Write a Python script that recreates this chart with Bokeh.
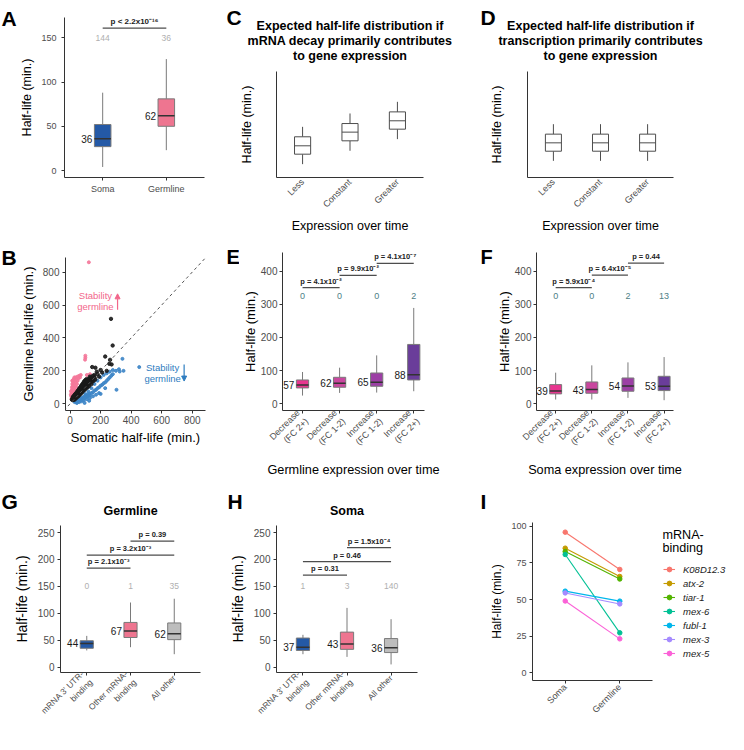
import math
from bokeh.plotting import figure
from bokeh.models import Range1d, FixedTicker, Slope, Arrow, NormalHead, Legend, LegendItem
from bokeh.layouts import column, row
from bokeh.embed import file_html
from bokeh.resources import INLINE
from bokeh.core.properties import value

FONT = "Liberation Sans"
AXC = "#333333"
TICKC = "#4D4D4D"

# ---------------- data ----------------
# A
a_cats = ["Soma", "Germline"]
a_lo = [4, 23]
a_q1 = [27, 50]
a_med = [36, 62]
a_q3 = [52, 81]
a_hi = [88, 126]
a_counts = ["144", "36"]
a_colors = ["#2459A6", "#EE7590"]
a_ptext = ["p < 2.2x10\u207b\u00b9\u2076"]
a_pairs = [(1, 2)]
a_py = [161]
a_yticks = [0, 50, 100, 150]

# C / D (schematic)
cd_cats = ["Less", "Constant", "Greater"]
c_lo = [12.6, 25.2, 36.2]
c_q1 = [22.0, 34.6, 45.6]
c_med = [29.9, 42.8, 53.5]
c_q3 = [38.4, 50.9, 61.9]
c_hi = [47.8, 60.4, 71.4]
d_lo = [15.7, 15.7, 15.7]
d_q1 = [24.8, 24.8, 24.8]
d_med = [32.7, 32.7, 32.7]
d_q3 = [40.9, 40.9, 40.9]
d_hi = [50.3, 50.3, 50.3]
c_title = ["Expected half-life distribution if", "mRNA decay primarily contributes", "to gene expression"]
d_title = ["Expected half-life distribution if", "transcription primarily contributes", "to gene expression"]

# B scatter
b_black_x = [12, 15, 18, 20, 22, 25, 25, 28, 30, 30,
             32, 35, 35, 38, 40, 40, 42, 45, 45, 48,
             50, 50, 52, 55, 55, 58, 60, 60, 62, 65,
             65, 68, 70, 70, 72, 75, 75, 78, 80, 80,
             82, 85, 85, 88, 90, 90, 92, 95, 95, 98,
             100, 100, 105, 105, 110, 110, 115, 115, 120, 120,
             125, 125, 130, 135, 140, 145, 150, 155, 160, 165,
             18, 22, 28, 33, 38, 43, 48, 52, 58, 62,
             68, 72, 78, 82, 88, 92, 98, 102, 108, 112,
             118, 128, 268, 279, 230, 262, 257, 272, 200, 210,
             240, 180, 190, 145, 166, 175, 160, 140, 150, 130]
b_black_y = [25, 30, 22, 35, 28, 40, 32, 24, 45, 36,
             30, 50, 40, 33, 55, 45, 38, 60, 50, 42,
             65, 55, 46, 70, 60, 50, 75, 66, 56, 80,
             70, 60, 86, 76, 65, 90, 80, 70, 96, 85,
             74, 100, 90, 80, 105, 95, 84, 110, 100, 88,
             115, 104, 120, 95, 125, 110, 130, 100, 135, 118,
             140, 108, 128, 145, 120, 135, 150, 140, 160, 148,
             40, 45, 52, 58, 62, 68, 75, 80, 88, 95,
             100, 108, 115, 120, 128, 135, 140, 145, 150, 138,
             148, 155, 516, 354, 287, 267, 243, 239, 205, 190,
             200, 180, 165, 223, 219, 195, 175, 160, 170, 165]
b_pink_x = [8, 10, 10, 12, 12, 14, 15, 15, 17, 18,
            18, 20, 20, 22, 24, 25, 26, 28, 30, 32,
            35, 35, 38, 40, 42, 45, 48, 50, 55, 60,
            65, 70, 12, 16, 9, 20, 14, 28, 6, 5,
            123, 100, 100, 98, 130, 110]
b_pink_y = [45, 60, 80, 50, 100, 70, 120, 90, 60, 110,
            140, 80, 130, 100, 150, 70, 120, 90, 140, 110,
            160, 80, 130, 100, 150, 120, 165, 140, 155, 170,
            160, 175, 35, 42, 30, 55, 140, 160, 75, 55,
            860, 292, 280, 268, 180, 175]
b_blue_x = [30, 35, 40, 45, 50, 55, 60, 65, 70, 75,
            80, 85, 90, 95, 100, 105, 110, 115, 120, 125,
            130, 140, 150, 160, 170, 180, 190, 200, 210, 220,
            230, 240, 250, 260, 270, 280, 300, 320, 350, 45,
            60, 75, 90, 110, 130, 150, 170, 190, 140, 120,
            100, 160, 180, 200, 220, 240, 260, 280, 304, 453,
            343, 230, 200, 125, 95, 325]
b_blue_y = [10, 15, 8, 20, 12, 25, 18, 30, 22, 35,
            28, 40, 32, 45, 38, 50, 42, 55, 48, 60,
            52, 65, 70, 80, 85, 95, 100, 110, 115, 125,
            130, 140, 150, 160, 170, 180, 200, 210, 200, 5,
            10, 15, 20, 28, 35, 45, 55, 65, 95, 75,
            60, 120, 140, 160, 175, 185, 195, 205, 85, 223,
            273, 95, 60, 18, 5, 196]
b_ticks = [0, 200, 400, 600, 800]
b_up_text = ["Stability", "germline"]
b_up_tx = [166, 166]
b_up_ty = [658, 591]
b_up_arrow = (311, 571, 668)
b_dn_text = ["Stability", "germline"]
b_dn_tx = [606, 606]
b_dn_ty = [223, 156]
b_dn_arrow = (747, 239, 138)

# E / F
ef_cats = ["Decrease\n(FC 2+)", "Decrease\n(FC 1-2)", "Increase\n(FC 1-2)", "Increase\n(FC 2+)"]
ef_colors = ["#E8368F", "#C9479F", "#9C3FA5", "#6A3D9A"]
e_lo = [25, 33, 34, 38]
e_q1 = [48, 50, 53, 72]
e_med = [57, 62, 65, 88]
e_q3 = [72, 80, 93, 179]
e_hi = [96, 109, 146, 289]
e_counts = ["0", "0", "0", "2"]
e_ptext = ["p = 4.1x10\u207b\u00b2", "p = 9.9x10\u207b\u00b2", "p = 4.1x10\u207b\u2077"]
e_pairs = [(1, 2), (2, 3), (3, 4)]
e_py = [350, 387, 423]
f_lo = [13, 13, 18, 11]
f_q1 = [30, 32, 38, 40]
f_med = [39, 43, 54, 53]
f_q3 = [58, 66, 78, 83]
f_hi = [94, 116, 125, 141]
f_counts = ["0", "0", "2", "13"]
f_ptext = ["p = 5.9x10\u207b\u2074", "p = 6.4x10\u207b\u2075", "p = 0.44"]
f_pairs = [(1, 2), (2, 3), (3, 4)]
f_py = [350, 388, 424]
ef_yticks = [0, 100, 200, 300, 400]

# G / H
gh_cats = ["mRNA 3' UTR-\nbinding", "Other mRNA-\nbinding", "All other"]
gh_colors = ["#2459A6", "#EE7590", "#BDBDBD"]
g_lo = [31, 37, 24]
g_q1 = [35, 55, 51]
g_med = [44, 67, 62]
g_q3 = [49, 83, 82]
g_hi = [58, 120, 127]
g_counts = ["0", "1", "35"]
g_ptext = ["p = 2.1x10\u207b\u00b3", "p = 3.2x10\u207b\u00b3", "p = 0.39"]
g_pairs = [(1, 2), (1, 3), (2, 3)]
g_py = [184, 208, 234]
h_lo = [24, 19, 5]
h_q1 = [31, 33, 27]
h_med = [37, 43, 36]
h_q3 = [54, 65, 53]
h_hi = [60, 110, 89]
h_counts = ["1", "3", "140"]
h_ptext = ["p = 0.31", "p = 0.46", "p = 1.5x10\u207b\u2074"]
h_pairs = [(1, 2), (1, 3), (2, 3)]
h_py = [171, 196, 222]
gh_yticks = [0, 50, 100, 150, 200, 250]

# I
i_cats = ["Soma", "Germline"]
i_genes = ["K08D12.3", "atx-2", "tiar-1", "mex-6", "fubl-1", "mex-3", "mex-5"]
i_soma = [95.9, 85.0, 82.7, 80.7, 55.7, 54.5, 49.0]
i_germ = [70.5, 65.7, 64.0, 27.3, 48.9, 47.0, 23.2]
i_colors = ["#F8766D", "#C49A00", "#53B400", "#00C094", "#00B6EB", "#A58AFF", "#FB61D7"]
i_yticks = [0, 25, 50, 75, 100]


# ---------------- helpers ----------------
def no_align(p):
    try:
        p.frame_align = False
    except Exception:
        pass


def blank(w, h):
    p = figure(width=w, height=h, x_range=Range1d(0, w), y_range=Range1d(h, 0),
               x_axis_type=None, y_axis_type=None, output_backend="svg", toolbar_location=None,
               min_border=0, min_border_left=0, min_border_right=0, min_border_top=0, min_border_bottom=0)
    p.outline_line_color = None
    p.grid.visible = False
    no_align(p)
    return p


def header(w, h, items):
    """Blank strip holding panel letters / titles (pixel coordinates, y downward)."""
    p = blank(w, h)
    for (x, y, t, size, style, align, base) in items:
        p.text(x=[x], y=[y], text=[t], text_font=value(FONT), text_font_size=f"{size}px",
               text_font_style=style, text_align=align, text_baseline=base, text_color="black")
    return p


def make_fig(w, H, ht, ox, fl, ft, fr, fb, xr, yr):
    """Plot of a cell of width w, height H; header height ht above, letter strip ox on the left.
    Frame edges fl, ft, fr, fb in cell-local pixels."""
    p = figure(width=w - ox, height=H - ht, x_range=Range1d(*xr), y_range=Range1d(*yr),
               output_backend="svg", toolbar_location=None,
               min_border_left=fl - ox, min_border_top=ft - ht,
               min_border_right=w - fr, min_border_bottom=H - fb)
    p.outline_line_color = None
    p.xgrid.visible = False
    p.ygrid.visible = False
    no_align(p)
    for ax in (p.xaxis[0], p.yaxis[0]):
        ax.axis_line_color = AXC
        ax.axis_line_width = 1
        ax.major_tick_line_color = AXC
        ax.major_tick_out = 3
        ax.major_tick_in = 0
        ax.minor_tick_line_color = None
        ax.major_label_text_font = FONT
        ax.major_label_text_color = TICKC
        ax.axis_label_text_font = FONT
        ax.axis_label_text_font_style = "normal"
        ax.axis_label_text_color = "black"
    return p


def cat_x(p, cats, size, orient=None, standoff=3):
    xs = list(range(1, len(cats) + 1))
    p.xaxis.ticker = FixedTicker(ticks=xs)
    p.xaxis.major_label_overrides = {x: c for x, c in zip(xs, cats)}
    p.xaxis.major_label_text_font_size = size
    p.xaxis.major_label_standoff = standoff
    if orient is not None:
        p.xaxis.major_label_orientation = orient
    return xs


def y_axis(p, ticks, size, label, label_size, s1, s2):
    p.yaxis.ticker = FixedTicker(ticks=ticks)
    p.yaxis.major_label_text_font_size = size
    p.yaxis.major_label_standoff = s1
    p.yaxis.axis_label = label
    p.yaxis.axis_label_text_font_size = label_size
    p.yaxis.axis_label_standoff = s2


def boxes(p, lo, q1, med, q3, hi, width, fills, line_color, med_color, med_w=1.5, lw=1.0):
    xs = list(range(1, len(med) + 1))
    p.segment(x0=xs, y0=q3, x1=xs, y1=hi, line_color=line_color, line_width=lw)
    p.segment(x0=xs, y0=lo, x1=xs, y1=q1, line_color=line_color, line_width=lw)
    p.vbar(x=xs, width=width, bottom=q1, top=q3, fill_color=fills, line_color=line_color, line_width=lw)
    p.segment(x0=[x - width / 2 for x in xs], y0=med, x1=[x + width / 2 for x in xs], y1=med,
              line_color=med_color, line_width=med_w)
    return xs


def med_labels(p, xs, med, width, size):
    p.text(x=[x - width / 2 for x in xs], y=med, text=[f"{m:.0f}" for m in med], x_offset=-2,
           text_align="right", text_baseline="middle", text_font=value(FONT),
           text_font_size=size, text_color="#1a1a1a")


def counts(p, xs, cnt, yv, size, color):
    p.text(x=xs, y=[yv] * len(xs), text=cnt, text_align="center", text_baseline="middle",
           text_font=value(FONT), text_font_size=size, text_color=color)


def brackets(p, pairs, pys, ptexts, size):
    p.segment(x0=[a for a, b in pairs], x1=[b for a, b in pairs], y0=pys, y1=pys,
              line_color="#4D4D4D", line_width=1.2)
    p.text(x=[(a + b) / 2 for a, b in pairs], y=pys, text=ptexts, y_offset=-2,
           text_align="center", text_baseline="bottom", text_font=value(FONT),
           text_font_size=size, text_font_style="bold", text_color="#222222")


LET = 21  # panel-letter font size

# ---------------- Panel A ----------------
sA = header(17, 237, [(1, 18, "A", LET, "bold", "left", "alphabetic")])
pA = make_fig(226, 237, 0, 17, 59, 17, 204, 177, (0.4, 2.6), (-7.9, 173))
xs = boxes(pA, a_lo, a_q1, a_med, a_q3, a_hi, 0.26, a_colors, "#7a7a7a", "#333333")
med_labels(pA, xs, a_med, 0.26, "10px")
counts(pA, xs, a_counts, 150, "8.5px", "#AFAFAF")
brackets(pA, a_pairs, a_py, a_ptext, "8px")
cat_x(pA, a_cats, "9px", standoff=3)
y_axis(pA, a_yticks, "9px", "Half-life (min.)", "12.5px", 5, 4)


# ---------------- Panels C / D ----------------
def schematic(w, fl, fr, lo, q1, med, q3, hi, title, letter, lab_standoff):
    cx = (fl + fr) / 2
    items = [(0, 17, letter, LET, "bold", "left", "alphabetic")]
    for k, line in enumerate(title):
        items.append((cx, 25 + 15 * k, line, 12.5, "bold", "center", "middle"))
    hd = header(w, 71, items)
    p = make_fig(w, 237, 71, 0, fl, 71, fr, 177, (0.45, 3.55), (0, 100))
    boxes(p, lo, q1, med, q3, hi, 0.34, ["white"] * 3, "#4D4D4D", "#4D4D4D", med_w=1.0, lw=1.0)
    cat_x(p, cd_cats, "9px", orient=math.pi / 4, standoff=3)
    p.xaxis.major_tick_out = 0
    p.xaxis.axis_label = "Expression over time"
    p.xaxis.axis_label_text_font_size = "12.5px"
    p.xaxis.axis_label_standoff = 3
    p.yaxis.ticker = FixedTicker(ticks=[])
    p.yaxis.major_tick_out = 0
    p.yaxis.major_label_standoff = 0
    p.yaxis.axis_label = "Half-life (min.)"
    p.yaxis.axis_label_text_font_size = "12.5px"
    p.yaxis.axis_label_standoff = lab_standoff
    return column(hd, p)


cC = schematic(254, 50, 197, c_lo, c_q1, c_med, c_q3, c_hi, c_title, "C", 23)
cD = schematic(248, 47, 193, d_lo, d_q1, d_med, d_q3, d_hi, d_title, "D", 24)

# ---------------- Panel B ----------------
sB = header(17, 248, [(1, 20, "B", LET, "bold", "left", "alphabetic")])
pB = make_fig(226, 248, 0, 17, 61, 20, 205, 173, (-30, 887), (-41, 889))
pB.xaxis.ticker = FixedTicker(ticks=b_ticks)
pB.xaxis.major_label_text_font_size = "10px"
pB.xaxis.major_label_standoff = 2
pB.xaxis.axis_label = "Somatic half-life (min.)"
pB.xaxis.axis_label_text_font_size = "13px"
pB.xaxis.axis_label_standoff = 3
y_axis(pB, b_ticks, "10px", "Germline half-life (min.)", "13px", 3, 4)
PINK = "#F4789A"
BLUE = "#3D85C6"
pB.scatter(b_blue_x, b_blue_y, size=3, color=BLUE, alpha=0.9)
pB.scatter(b_pink_x, b_pink_y, size=3, color=PINK, alpha=0.9)
pB.scatter(b_black_x, b_black_y, size=3.4, color="#1A1A1A", alpha=0.9)
pB.add_layout(Slope(gradient=1, y_intercept=0, line_color="#555555", line_dash="3 3", line_width=1))
pB.text(x=b_up_tx, y=b_up_ty, text=b_up_text, text_align="center", text_baseline="middle",
        text_font=value(FONT), text_font_size="9.5px", text_color="#F2668B")
pB.text(x=b_dn_tx, y=b_dn_ty, text=b_dn_text, text_align="center", text_baseline="middle",
        text_font=value(FONT), text_font_size="9.5px", text_color="#2F7DC0")
pB.add_layout(Arrow(x_start=b_up_arrow[0], y_start=b_up_arrow[1], x_end=b_up_arrow[0], y_end=b_up_arrow[2],
                    line_color="#F2668B", line_width=1.2,
                    end=NormalHead(size=5, fill_color="#F2668B", line_color="#F2668B")))
pB.add_layout(Arrow(x_start=b_dn_arrow[0], y_start=b_dn_arrow[1], x_end=b_dn_arrow[0], y_end=b_dn_arrow[2],
                    line_color="#2F7DC0", line_width=1.2,
                    end=NormalHead(size=5, fill_color="#2F7DC0", line_color="#2F7DC0")))


# ---------------- Panels E / F ----------------
def ef_panel(w, fl, fr, xr, lo, q1, med, q3, hi, cnt, pairs, py, ptext, xlabel, letter):
    st = header(13, 248, [(0, 19, letter, 20, "bold", "left", "alphabetic")])
    p = make_fig(w, 248, 0, 13, fl, 15, fr, 173, xr, (-20, 456))
    xs = boxes(p, lo, q1, med, q3, hi, 0.33, ef_colors, "#7a7a7a", "#333333")
    med_labels(p, xs, med, 0.33, "10px")
    counts(p, xs, cnt, 325, "9px", "#4E8086")
    brackets(p, pairs, py, ptext, "7.5px")
    cat_x(p, ef_cats, "9px", orient=math.pi / 4, standoff=2)
    p.xaxis.axis_label = xlabel
    p.xaxis.axis_label_text_font_size = "12.7px"
    p.xaxis.axis_label_standoff = 2
    y_axis(p, ef_yticks, "10px", "Half-life (min.)", "13px", 2, 0)
    return row(st, p)


cE = ef_panel(254, 51, 198, (0.46, 4.29), e_lo, e_q1, e_med, e_q3, e_hi, e_counts, e_pairs, e_py, e_ptext,
              "Germline expression over time", "E")
cF = ef_panel(248, 48, 193, (0.47, 4.26), f_lo, f_q1, f_med, f_q3, f_hi, f_counts, f_pairs, f_py, f_ptext,
              "Soma expression over time", "F")


# ---------------- Panels G / H ----------------
def gh_panel(w, fl, fr, lo, q1, med, q3, hi, cnt, pairs, py, ptext, title, letter):
    hd = header(w, 40, [(1, 16, letter, LET, "bold", "left", "alphabetic"),
                        ((fl + fr) / 2, 25, title, 12.5, "bold", "center", "middle")])
    p = make_fig(w, 249, 40, 0, fl, 40, fr, 193, (0.4, 3.6), (-10, 263))
    xs = boxes(p, lo, q1, med, q3, hi, 0.3, gh_colors, "#7a7a7a", "#333333")
    med_labels(p, xs, med, 0.3, "10px")
    counts(p, xs, cnt, 150, "8.5px", "#AFAFAF")
    brackets(p, pairs, py, ptext, "7.5px")
    cat_x(p, gh_cats, "8.5px", orient=math.pi / 4, standoff=1)
    y_axis(p, gh_yticks, "10px", "Half-life (min.)", "14px", 3, 5)
    return column(hd, p)


cG = gh_panel(226, 60, 200, g_lo, g_q1, g_med, g_q3, g_hi, g_counts, g_pairs, g_py, g_ptext, "Germline", "G")
cH = gh_panel(254, 50, 191, h_lo, h_q1, h_med, h_q3, h_hi, h_counts, h_pairs, h_py, h_ptext, "Soma", "H")

# ---------------- Panel I ----------------
sI = header(7, 249, [(0, 16, "I", LET, "bold", "left", "alphabetic")])
pI = make_fig(180, 249, 0, 7, 49, 37, 172, 195, (0.4, 2.6), (-5.2, 102.5))
ixs = cat_x(pI, i_cats, "9px", orient=math.pi / 4, standoff=2)
y_axis(pI, i_yticks, "9px", "Half-life (min.)", "12px", 3, 4)
for s, gm, c in zip(i_soma, i_germ, i_colors):
    pI.line(x=ixs, y=[s, gm], line_color=c, line_width=1.1)
    pI.scatter(x=ixs, y=[s, gm], size=4.5, color=c)

# legend strip to the right of panel I (x from cell-local 180); proxy renderers lie outside its view
lI = header(68, 249, [(2, 49, "mRNA-", 12.6, "normal", "left", "middle"),
                      (2, 62, "binding", 12.6, "normal", "left", "middle")])
items = []
for g, c in zip(i_genes, i_colors):
    lr = lI.line(x=[-60, -50], y=[-50, -50], line_color=c, line_width=1.1)
    sr = lI.scatter(x=[-55], y=[-50], size=4.5, color=c)
    items.append(LegendItem(label=g, renderers=[lr, sr]))
leg = Legend(items=items, location=(3, 75), orientation="vertical", glyph_width=12, glyph_height=12,
             label_height=12, spacing=2, padding=0, margin=0, border_line_color=None,
             background_fill_alpha=0, label_text_font=FONT, label_text_font_size="9.5px",
             label_text_font_style="italic", label_standoff=8, label_text_color="#1a1a1a")
lI.add_layout(leg)

layout = column(
    row(row(sA, pA), cC, cD),
    row(row(sB, pB), cE, cF),
    row(cG, cH, row(sI, pI, lI)),
)
open("out.html", "w").write(file_html(layout, INLINE))
